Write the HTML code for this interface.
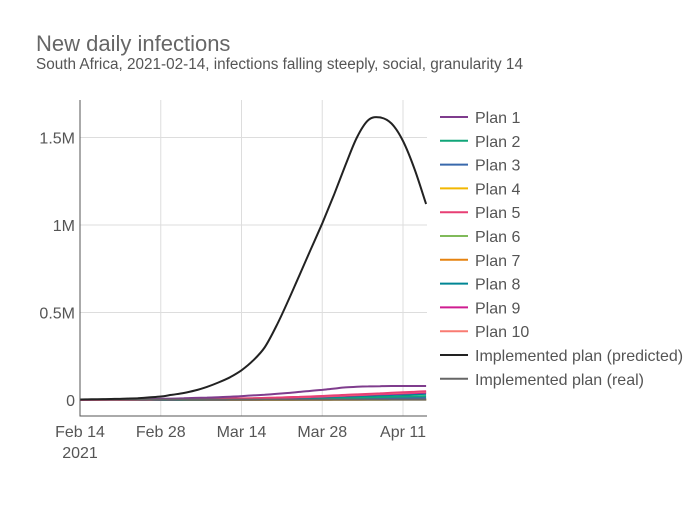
<!DOCTYPE html>
<html><head><meta charset="utf-8"><style>
body{margin:0;background:#fff;font-family:"Liberation Sans",sans-serif}
svg text{font-family:"Liberation Sans",sans-serif}
</style></head><body>
<svg id="c" width="700" height="500">
<text x="36" y="51" font-size="22" fill="#666">New daily infections</text>
<text x="36" y="69" font-size="15.3" fill="#555">South Africa, 2021-02-14, infections falling steeply, social, granularity 14</text>
<g id="grid"></g><g id="series"></g><g id="axes"></g><g id="legend"></g>
</svg>
<script>
const days=[0,2,4,6,8,10,12,14,16,18,20,22,24,26,28,30,32,34,36,38,40,42,44,46,48,50,52,54,56,58,60];
const predicted=[0.003,0.004,0.005,0.006,0.008,0.01,0.015,0.02,0.03,0.04,0.055,0.075,0.1,0.13,0.17,0.225,0.3,0.42,0.56,0.71,0.86,1.01,1.17,1.34,1.5,1.6,1.615,1.58,1.48,1.32,1.12];
const plan1=[0.002,0.002,0.003,0.003,0.004,0.005,0.006,0.007,0.008,0.01,0.012,0.014,0.016,0.019,0.022,0.026,0.03,0.035,0.04,0.046,0.052,0.058,0.065,0.072,0.076,0.078,0.079,0.08,0.08,0.08,0.08];
const plan5=[0,0,0.001,0.001,0.001,0.002,0.002,0.003,0.003,0.004,0.005,0.006,0.007,0.008,0.009,0.01,0.012,0.014,0.016,0.018,0.02,0.023,0.026,0.029,0.032,0.035,0.038,0.041,0.044,0.047,0.05];
const plan9=plan5.map(v=>v*0.85);
const plan8=plan5.map(v=>v*0.7);
const plan10=plan5.map(v=>v*0.95);
const plan2=plan5.map(v=>v*0.45);
const plan3=plan5.map(v=>v*0.25);
const plan4=plan5.map(v=>v*0.05);
const plan6=plan5.map(v=>v*0.1);
const plan7=plan5.map(v=>v*0.08);
const realDays=[0,2,4,6,8,10,12,14,16,18,20,22,24,26,28,30,32,34,36,38,40,42,44,46,48,50,52,54,56,58,60];
const real=[0.002,0.002,0.002,0.002,0.002,0.002,0.002,0.002,0.002,0.002,0.002,0.002,0.002,0.002,0.002,0.002,0.002,0.002,0.002,0.002,0.002,0.002,0.002,0.002,0.002,0.002,0.002,0.002,0.002,0.002,0.002];
const yTicks=[0,0.5,1,1.5];
const yTickLabels=["0","0.5M","1M","1.5M"];
const xTicks=[0,14,28,42,56];
const xTickLabels=["Feb 14","Feb 28","Mar 14","Mar 28","Apr 11"];
const names=["Plan 1","Plan 2","Plan 3","Plan 4","Plan 5","Plan 6","Plan 7","Plan 8","Plan 9","Plan 10","Implemented plan (predicted)","Implemented plan (real)"];
const colors=["#7F3C8D","#11A579","#3969AC","#F2B701","#E73F74","#80BA5A","#E68310","#008695","#CF1C90","#f97b72","#222222","#666666"];
const ns="http://www.w3.org/2000/svg";
const L=80,R=427,T=100,B=416;
const x=d=>L+d*(403-80)/56;
const y=v=>400-v*175;
function mk(t,a,p){const e=document.createElementNS(ns,t);for(const k in a)e.setAttribute(k,a[k]);p.appendChild(e);return e;}
function smooth(pts){let d='M'+pts[0][0].toFixed(1)+','+pts[0][1].toFixed(1);
 for(let i=0;i<pts.length-1;i++){const p0=pts[Math.max(0,i-1)],p1=pts[i],p2=pts[i+1],p3=pts[Math.min(pts.length-1,i+2)];
 const c1=[p1[0]+(p2[0]-p0[0])/6,p1[1]+(p2[1]-p0[1])/6],c2=[p2[0]-(p3[0]-p1[0])/6,p2[1]-(p3[1]-p1[1])/6];
 d+='C'+c1.map(n=>n.toFixed(1))+' '+c2.map(n=>n.toFixed(1))+' '+p2.map(n=>n.toFixed(1));}
 return d;}
const grid=document.getElementById('grid'),axes=document.getElementById('axes'),ser=document.getElementById('series'),leg=document.getElementById('legend');
yTicks.forEach((v,i)=>{
 const g=mk('line',{x1:L,x2:R,y1:y(v),y2:y(v),stroke:'#ddd','stroke-width':1},grid);
 
 
 const t=mk('text',{x:L-5,y:y(v)+6,'text-anchor':'end','font-size':16,fill:'#555'},axes);
 t.textContent=yTickLabels[i];
 
 
});
xTicks.forEach((d,i)=>{
 const g=mk('line',{x1:x(d),x2:x(d),y1:T,y2:B,stroke:'#ddd','stroke-width':1},grid);
 
 
 const t=mk('text',{x:x(d),y:437,'text-anchor':'middle','font-size':16,fill:'#555'},axes);
 t.textContent=xTickLabels[i];
 
 
});
const yr=mk('text',{x:x(0),y:458,'text-anchor':'middle','font-size':16,fill:'#555'},axes);
yr.textContent="2021";


const ax=mk('path',{d:`M${L},${T}V${B}H${R}`,fill:'none',stroke:'#555','stroke-width':1},axes);


const data=[plan1,plan2,plan3,plan4,plan5,plan6,plan7,plan8,plan9,plan10,predicted,real];
const order=[3,5,6,2,1,7,8,9,4,0,11,10];
order.forEach(i=>{
 const xs=i===11?realDays:days;
 const p=mk('path',{d:smooth(data[i].map((v,j)=>[x(xs[j]),y(v)])),fill:'none',stroke:colors[i],'stroke-width':2},ser);
 
 
});
names.forEach((n,i)=>{
 const yy=117+i*23.8;
 const l=mk('line',{x1:440,x2:468,y1:yy,y2:yy,stroke:colors[i],'stroke-width':2},leg);
 
 
 const t=mk('text',{x:475,y:yy+6,'font-size':16,fill:'#555'},leg);
 t.textContent=n;
 
 
});
</script>
</body></html>
